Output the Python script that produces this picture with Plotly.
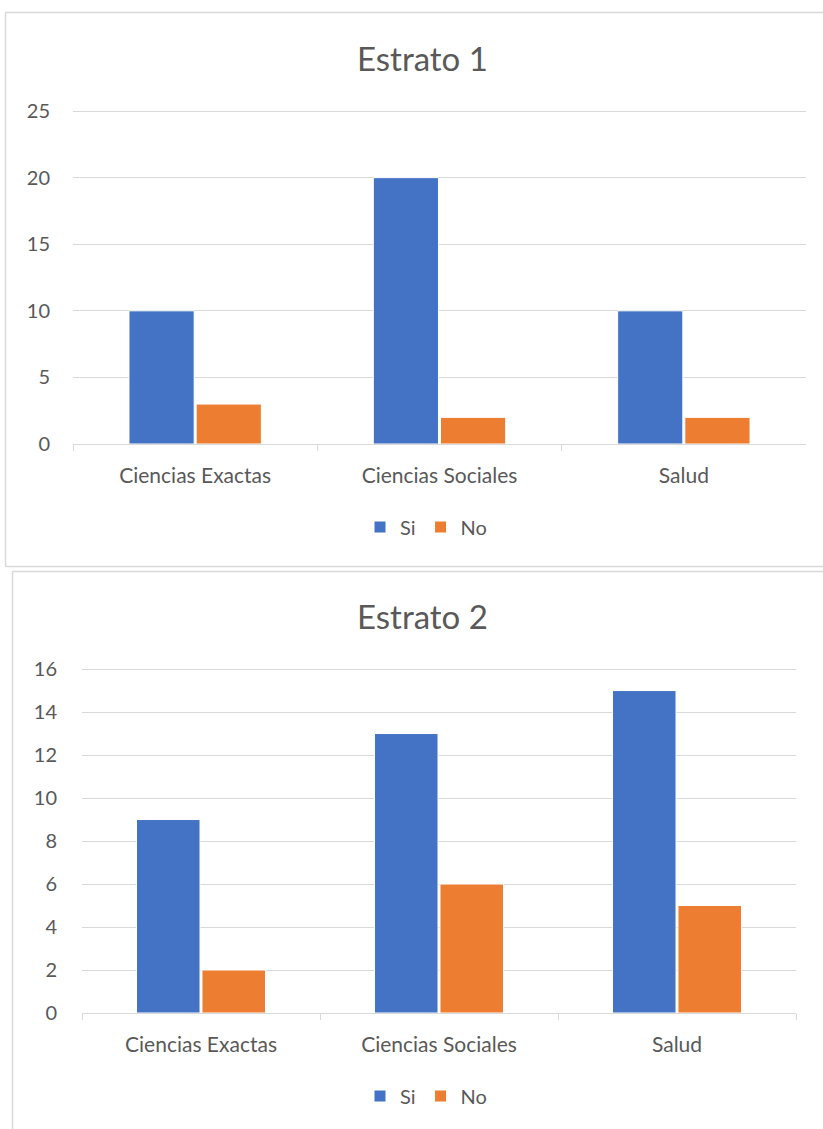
import plotly.graph_objects as go

categories = ["Ciencias Exactas", "Ciencias Sociales", "Salud"]
e1_si = [10, 20, 10]
e1_no = [3, 2, 2]
e2_si = [9, 13, 15]
e2_no = [2, 6, 5]

W, H = 823, 1129
def px(x): return x / W
def py(y): return 1 - y / H

BLUE = "#4472C4"
ORANGE = "#ED7D31"
GRID = "#D9D9D9"
TXT = "#595959"
FONT = "Lato"

fig = go.Figure()
fig.add_trace(go.Bar(x=categories, y=e1_si, name="Si", marker=dict(color=BLUE, line=dict(color="white", width=1)),
                     xaxis="x", yaxis="y", legend="legend"))
fig.add_trace(go.Bar(x=categories, y=e1_no, name="No", marker=dict(color=ORANGE, line=dict(color="white", width=1)),
                     xaxis="x", yaxis="y", legend="legend"))
fig.add_trace(go.Bar(x=categories, y=e2_si, name="Si", marker=dict(color=BLUE, line=dict(color="white", width=1)),
                     xaxis="x2", yaxis="y2", legend="legend2"))
fig.add_trace(go.Bar(x=categories, y=e2_no, name="No", marker=dict(color=ORANGE, line=dict(color="white", width=1)),
                     xaxis="x2", yaxis="y2", legend="legend2"))

xcommon = dict(type="category", tickson="boundaries", ticks="outside", ticklen=6, tickcolor=GRID,
               showline=True, linecolor=GRID, linewidth=1, showgrid=False, ticklabelstandoff=13,
               tickfont=dict(family=FONT, size=21, color=TXT), fixedrange=True, automargin=False)
ycommon = dict(showgrid=True, gridcolor=GRID, gridwidth=1, zeroline=False, showline=False,
               tickfont=dict(family=FONT, size=20, color=TXT), ticks="", fixedrange=True, automargin=False)

def border(x0, y0, x1, y1):
    return dict(type="line", xref="paper", yref="paper", x0=px(x0), x1=px(x1), y0=py(y0), y1=py(y1),
                line=dict(color=GRID, width=1.5), layer="below")

fig.update_layout(
    width=W, height=H, margin=dict(l=0, r=0, t=0, b=0, autoexpand=False),
    paper_bgcolor="white", plot_bgcolor="white",
    barmode="group", bargap=0.45, bargroupgap=0.03,
    xaxis=dict(domain=[px(73), px(806)], anchor="y", **xcommon),
    yaxis=dict(domain=[py(444), py(110)], anchor="x", range=[0, 25.08], tickvals=[0, 5, 10, 15, 20, 25],
               ticklabelstandoff=22, **ycommon),
    xaxis2=dict(domain=[px(82), px(796)], anchor="y2", **xcommon),
    yaxis2=dict(domain=[py(1013), py(668)], anchor="x2", range=[0, 16.05], tickvals=[0, 2, 4, 6, 8, 10, 12, 14, 16],
                ticklabelstandoff=24, **ycommon),
    legend=dict(orientation="h", x=px(426), y=py(527), xanchor="center", yanchor="middle",
                font=dict(family=FONT, size=20, color=TXT), itemwidth=30, bgcolor="rgba(0,0,0,0)"),
    legend2=dict(orientation="h", x=px(426), y=py(1096), xanchor="center", yanchor="middle",
                 font=dict(family=FONT, size=20, color=TXT), itemwidth=30, bgcolor="rgba(0,0,0,0)"),
    annotations=[
        dict(text="Estrato 1", x=px(422), y=py(58), xref="paper", yref="paper", showarrow=False,
             font=dict(family=FONT, size=33, color=TXT), xanchor="center", yanchor="middle"),
        dict(text="Estrato 2", x=px(422), y=py(616), xref="paper", yref="paper", showarrow=False,
             font=dict(family=FONT, size=33, color=TXT), xanchor="center", yanchor="middle"),
    ],
    shapes=[
        border(5.5, 12.5, 823, 12.5),
        border(5.5, 12.5, 5.5, 566.5),
        border(5.5, 566.5, 823, 566.5),
        border(12.5, 571.5, 823, 571.5),
        border(12.5, 571.5, 12.5, 1129),
    ],
)

fig.write_html("out.html")
